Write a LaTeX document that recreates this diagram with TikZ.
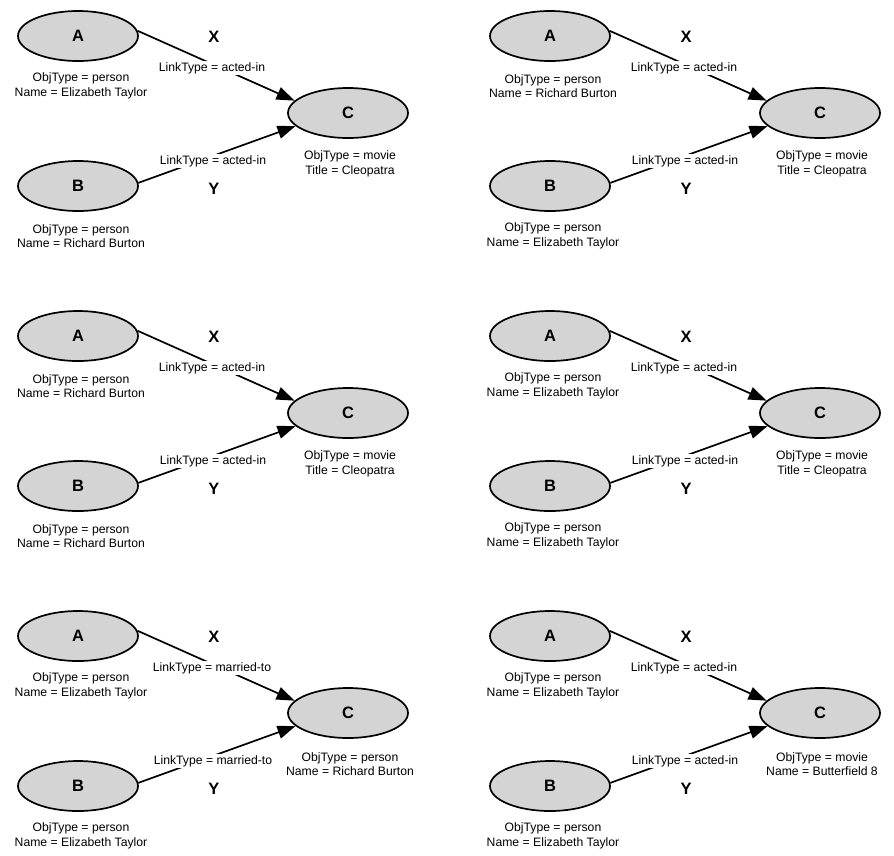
\documentclass[tikz,border=0pt]{standalone}
\usepackage{fontspec}
\setmainfont{Liberation Sans}
\usetikzlibrary{shapes,arrows.meta}
\tikzstyle{obj} = [ellipse, draw, fill=black!17, line width=1.7pt,
    minimum width=120pt, minimum height=50pt,
    font=\fontsize{16.5}{18}\selectfont\bfseries]
\tikzstyle{attr} = [align=center, inner sep=1pt,
    font=\fontsize{12.2}{14.7}\selectfont]
\tikzstyle{link} = [fill=white, inner sep=1pt,
    font=\fontsize{12.2}{14.5}\selectfont]
\tikzstyle{role} = [font=\fontsize{16.5}{18}\selectfont\bfseries]
\tikzstyle{line} = [draw, line width=1.7pt, -{Triangle[length=18pt,width=13pt]}]

% one panel: shift, name of A, name of B, link type, type of C, attribute of C
\newcommand{\linkpanel}[6]{%
\begin{scope}[shift={(#1)}]
    % Place nodes
    \node [obj] (a) {A};
    \node [obj, below of=a, node distance=150pt] (b) {B};
    \node [obj, right of=a, node distance=270pt, yshift=-77pt] (c) {C};
    \node [attr, below of=a, node distance=50pt, xshift=3pt] (a_attr) {ObjType = person\\Name = #2};
    \node [attr, below of=b, node distance=50pt, xshift=3pt] (b_attr) {ObjType = person\\Name = #3};
    \node [attr, below of=c, node distance=51pt, xshift=2pt] (c_attr) {ObjType = #5\\#6};
    \node [role, right of=a, node distance=136pt, yshift=-1pt] (x) {X};
    \node [role, right of=b, node distance=136pt, yshift=-3pt] (y) {Y};
    % Draw edges
    \path [line] (a.5) -- (c.167);
    \path [line] (b.3) -- (c.194);
    \node [link, right of=a, node distance=134pt, yshift=-32pt] (ac_type) {LinkType = #4};
    \node [link, right of=b, node distance=135pt, yshift=25pt] (bc_type) {LinkType = #4};
\end{scope}}

\begin{document}
\begin{tikzpicture}[x=1pt, y=-1pt]
    \useasboundingbox (0,0) rectangle (894,855);
    \linkpanel{78,36}{Elizabeth Taylor}{Richard Burton}{acted-in}{movie}{Title = Cleopatra}
    \linkpanel{550,36}{Richard Burton}{Elizabeth Taylor}{acted-in}{movie}{Title = Cleopatra}
    \linkpanel{78,336}{Richard Burton}{Richard Burton}{acted-in}{movie}{Title = Cleopatra}
    \linkpanel{550,336}{Elizabeth Taylor}{Elizabeth Taylor}{acted-in}{movie}{Title = Cleopatra}
    \linkpanel{78,636}{Elizabeth Taylor}{Elizabeth Taylor}{married-to}{person}{Name = Richard Burton}
    \linkpanel{550,636}{Elizabeth Taylor}{Elizabeth Taylor}{acted-in}{movie}{Name = Butterfield 8}
\end{tikzpicture}
\end{document}
